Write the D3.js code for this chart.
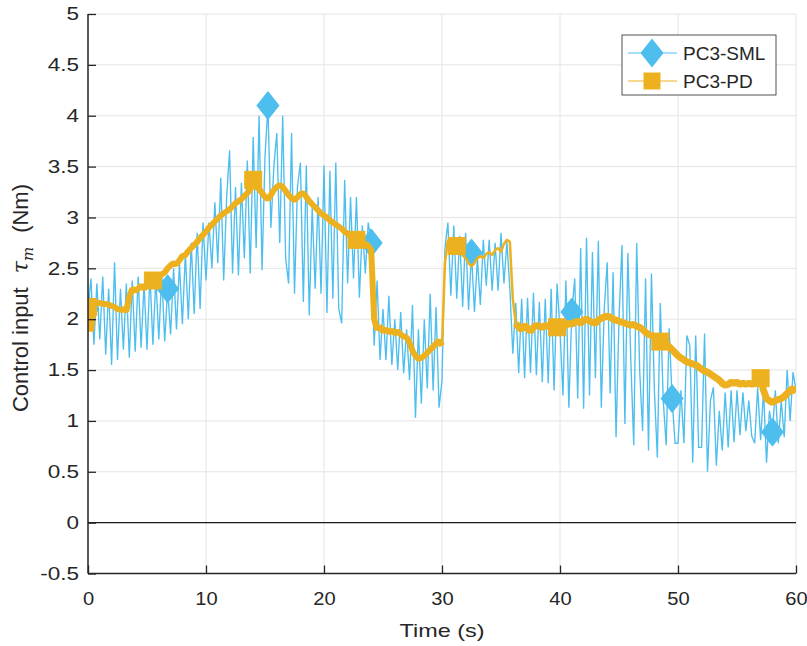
<!DOCTYPE html>
<html>
<head>
<meta charset="utf-8">
<script src="https://cdn.jsdelivr.net/npm/d3@7"></script>
<style>
  html, body { margin: 0; padding: 0; background: #ffffff; }
  svg { display: block; }
  text { font-family: "Liberation Sans", Arial, Helvetica, sans-serif; fill: #262626; }
</style>
</head>
<body>
<svg id="chart" width="807" height="646"></svg>
<script>
// ---------------- DATA ----------------
const sampleStep = 0.25;              // seconds between samples
const seriesNames = ["PC3-SML", "PC3-PD"];
const xTickValues = [0, 10, 20, 30, 40, 50, 60];
const yTickValues = [-0.5, 0, 0.5, 1, 1.5, 2, 2.5, 3, 3.5, 4, 4.5, 5];
const yTickLabels = ["-0.5", "0", "0.5", "1", "1.5", "2", "2.5", "3", "3.5", "4", "4.5", "5"];

// PC3-SML control input, one row per second (t, t+.25, t+.5, t+.75)
const smlValues = [
  2.10, 2.40, 1.75, 2.35,
  1.80, 2.42, 1.65, 2.30,
  1.55, 2.56, 1.60, 2.30,
  1.70, 2.35, 1.62, 2.38,
  1.68, 2.42, 1.72, 2.35,
  1.70, 2.45, 1.75, 2.40,
  1.80, 2.45, 1.78, 2.30,
  1.85, 2.50, 1.90, 2.55,
  1.95, 2.65, 2.00, 2.75,
  2.05, 2.85, 2.10, 2.95,
  2.38, 2.95, 2.50, 3.15,
  2.55, 3.39, 2.38, 3.20,
  3.66, 2.45, 3.30, 2.43,
  3.34, 2.60, 3.56, 2.45,
  3.79, 2.70, 4.00, 2.48,
  3.60, 4.10, 2.90, 3.50,
  3.83, 2.75, 4.00, 2.60,
  2.35, 3.83, 2.25, 3.30,
  3.54, 2.17, 3.51, 2.04,
  3.10, 2.30, 3.20, 2.25,
  3.51, 2.06, 3.46, 2.20,
  3.54, 2.10, 1.96, 3.37,
  2.35, 3.20, 2.40, 3.20,
  2.21, 2.92, 2.45, 2.95,
  2.75, 1.74, 2.38, 1.60,
  2.10, 1.60, 2.23, 1.55,
  2.00, 1.50, 2.07, 1.47,
  1.90, 1.40, 2.14, 1.03,
  1.90, 1.17, 2.00, 1.32,
  2.25, 1.30, 2.12, 1.13,
  1.40, 2.70, 2.95, 2.23,
  2.92, 2.20, 2.82, 2.12,
  2.85, 2.09, 2.65, 2.07,
  2.60, 2.14, 2.78, 2.33,
  2.78, 2.28, 2.75, 2.28,
  2.85, 2.35, 2.76, 2.30,
  1.66, 2.16, 1.47, 2.20,
  1.42, 2.21, 1.47, 2.26,
  1.45, 2.17, 1.38, 2.20,
  1.37, 2.30, 1.30, 2.35,
  1.90, 1.25, 2.38, 1.13,
  2.07, 2.40, 1.22, 2.70,
  1.12, 2.80, 1.25, 2.66,
  1.42, 2.77, 1.13, 2.10,
  2.56, 1.27, 2.46, 0.84,
  2.00, 2.73, 0.97, 2.65,
  1.60, 0.76, 2.75, 1.50,
  0.90, 2.40, 0.71, 2.45,
  1.30, 0.64, 2.16, 1.20,
  0.76, 1.91, 1.22, 0.78,
  0.78, 1.30, 0.78, 1.84,
  1.74, 0.59, 1.84, 0.74,
  0.74, 1.86, 0.50, 1.20,
  1.33, 0.56, 1.10, 0.71,
  1.28, 0.74, 1.30, 0.79,
  1.30, 0.86, 1.28, 0.90,
  1.20, 0.85, 0.78, 1.33,
  0.81, 1.30, 0.59, 1.10,
  0.89, 1.30, 0.78, 1.20,
  0.84, 1.50, 1.00, 1.48,
  1.30
];

// PC3-PD control input, one row per second (t, t+.25, t+.5, t+.75)
const pdValues = [
  2.12, 1.88, 2.15, 2.16,
  2.16, 2.15, 2.15, 2.14,
  2.13, 2.12, 2.10, 2.09,
  2.10, 2.08, 2.22, 2.30,
  2.28, 2.30, 2.33, 2.30,
  2.34, 2.36, 2.38, 2.40,
  2.42, 2.44, 2.46, 2.50,
  2.53, 2.55, 2.54, 2.58,
  2.62, 2.63, 2.67, 2.70,
  2.73, 2.76, 2.80, 2.83,
  2.86, 2.90, 2.93, 2.96,
  2.99, 3.02, 3.04, 3.06,
  3.08, 3.11, 3.14, 3.16,
  3.18, 3.21, 3.24, 3.27,
  3.37, 3.30, 3.28, 3.24,
  3.20, 3.18, 3.22, 3.27,
  3.30, 3.32, 3.30, 3.26,
  3.22, 3.19, 3.17, 3.20,
  3.23, 3.24, 3.20, 3.16,
  3.13, 3.10, 3.07, 3.04,
  3.02, 3.00, 2.97, 2.95,
  2.93, 2.91, 2.89, 2.86,
  2.84, 2.81, 2.79, 2.78,
  2.77, 2.76, 2.74, 2.72,
  2.68, 2.00, 1.90, 1.93,
  1.88, 1.90, 1.87, 1.89,
  1.86, 1.88, 1.85, 1.83,
  1.82, 1.77, 1.69, 1.64,
  1.61, 1.62, 1.64, 1.67,
  1.70, 1.73, 1.76, 1.79,
  1.74, 2.55, 2.78, 2.72,
  2.71, 2.72, 2.68, 2.63,
  2.60, 2.55, 2.52, 2.55,
  2.60, 2.62, 2.60, 2.64,
  2.66, 2.63, 2.68, 2.70,
  2.66, 2.74, 2.78, 2.76,
  2.20, 1.96, 1.92, 1.90,
  1.94, 1.91, 1.88, 1.92,
  1.94, 1.93, 1.92, 1.94,
  1.93, 1.92, 1.91, 1.92,
  1.91, 1.92, 1.94, 1.96,
  1.95, 1.97, 1.98, 1.96,
  1.99, 2.00, 1.98, 1.97,
  1.96, 1.99, 2.01, 2.02,
  2.03, 2.02, 2.00, 1.99,
  1.98, 1.97, 1.96, 1.95,
  1.94, 1.95, 1.93, 1.92,
  1.90, 1.87, 1.85, 1.84,
  1.83, 1.81, 1.78, 1.78,
  1.76, 1.73, 1.70, 1.67,
  1.64, 1.62, 1.60, 1.58,
  1.57, 1.56, 1.55, 1.53,
  1.51, 1.49, 1.48, 1.46,
  1.44, 1.42, 1.40, 1.37,
  1.35, 1.36, 1.38, 1.37,
  1.38, 1.36, 1.37, 1.36,
  1.37, 1.36, 1.38, 1.37,
  1.42, 1.30, 1.22, 1.20,
  1.18, 1.20, 1.21, 1.22,
  1.24, 1.27, 1.30, 1.32,
  1.28
];

// times (s) at which markers are drawn on each series
const smlMarkerTimes = [0, 6.75, 15.25, 24, 32.5, 41, 49.5, 58];
const pdMarkerTimes  = [0, 5.5, 14, 22.75, 31.25, 39.75, 48.5, 57];

// ---------------- DRAWING ----------------
(function draw() {
const colSML = "#4DBEEE";
const colPD  = "#EDB120";
const axisCol = "#262626";
const gridCol = "#e4e4e4";
const stretchY = 1.25;   // the reference's axis text is drawn wide
const stretchX = 1.12;

const svg = d3.select("#chart");
const pL = 88, pR = 796, pT = 14, pB = 573.5;

const x = d3.scaleLinear().domain([0, 60]).range([pL, pR]);
const y = d3.scaleLinear().domain([-0.5, 5]).range([pB, pT]);

const toPoints = vals => vals.map((v, i) => ({ t: i * sampleStep, v }));
const smlData = toPoints(smlValues);
const pdData  = toPoints(pdValues);
const at = (data, t) => data[Math.round(t / sampleStep)];

// grid
const grid = svg.append("g");
grid.selectAll("line.gx").data(xTickValues).join("line")
  .attr("x1", d => x(d)).attr("x2", d => x(d))
  .attr("y1", pT).attr("y2", pB)
  .attr("stroke", gridCol).attr("stroke-width", 1);
grid.selectAll("line.gy").data(yTickValues).join("line")
  .attr("x1", pL).attr("x2", pR)
  .attr("y1", d => y(d)).attr("y2", d => y(d))
  .attr("stroke", gridCol).attr("stroke-width", 1);

// clip
svg.append("clipPath").attr("id", "clip").append("rect")
  .attr("x", pL).attr("y", pT).attr("width", pR - pL).attr("height", pB - pT);

const plot = svg.append("g").attr("clip-path", "url(#clip)");

// zero reference line
plot.append("line")
  .attr("x1", x(0)).attr("x2", x(60)).attr("y1", y(0)).attr("y2", y(0))
  .attr("stroke", "#1a1a1a").attr("stroke-width", 1.4);

const line = d3.line().x(d => x(d.t)).y(d => y(d.v));

// SML line + diamonds
plot.append("path").datum(smlData)
  .attr("d", line).attr("fill", "none")
  .attr("stroke", colSML).attr("stroke-width", 1.35).attr("stroke-linejoin", "miter");

const diamond = (cx, cy, hw, hh) => `M${cx},${cy - hh}L${cx + hw},${cy}L${cx},${cy + hh}L${cx - hw},${cy}Z`;
plot.selectAll("path.dm").data(smlMarkerTimes.map(t => at(smlData, t))).join("path")
  .attr("d", d => diamond(x(d.t), y(d.v), 11, 14))
  .attr("fill", colSML).attr("stroke", colSML).attr("stroke-width", 1);

// PD line (band width varies with the jitter seen in the reference) + squares
const pdBands = [
  { from: 0, to: 30, w: 6 },
  { from: 30, to: 36.25, w: 2.5 },
  { from: 36.25, to: 60, w: 7 }
];
pdBands.forEach(b => {
  plot.append("path").datum(pdData.filter(d => d.t >= b.from && d.t <= b.to))
    .attr("d", line).attr("fill", "none")
    .attr("stroke", colPD).attr("stroke-width", b.w)
    .attr("stroke-linejoin", "bevel").attr("stroke-linecap", "butt");
});

plot.selectAll("rect.sq").data(pdMarkerTimes.map(t => at(pdData, t))).join("rect")
  .attr("x", d => x(d.t) - 8.5).attr("y", d => y(d.v) - 8.5)
  .attr("width", 17).attr("height", 17)
  .attr("fill", colPD).attr("stroke", colPD).attr("stroke-width", 1);

// axes
const fs = 18;
const yAxis = d3.axisLeft(y).tickValues(yTickValues)
  .tickFormat((d, i) => yTickLabels[i]).tickSize(-8).tickPadding(9 / stretchY);
const gy = svg.append("g").attr("transform", `translate(${pL},0)`).call(yAxis);
const xAxis = d3.axisBottom(x).tickValues(xTickValues)
  .tickFormat(d3.format("d")).tickSize(-8).tickPadding(23);
const gx = svg.append("g").attr("transform", `translate(0,${pB})`).call(xAxis);

[[gx, stretchX], [gy, stretchY]].forEach(([g, s]) => {
  g.select(".domain").remove();
  g.selectAll(".tick line").attr("stroke", axisCol).attr("stroke-width", 1.3);
  g.selectAll(".tick text").attr("font-size", fs).attr("fill", axisCol)
    .attr("transform", `scale(${s},1)`)
    .style("font-family", "'Liberation Sans', Arial, sans-serif");
});
gx.selectAll(".tick text").attr("dy", "0.5em");

svg.append("line").attr("x1", pL).attr("x2", pL).attr("y1", pT).attr("y2", pB)
  .attr("stroke", axisCol).attr("stroke-width", 1.5);
svg.append("line").attr("x1", pL).attr("x2", pR).attr("y1", pB).attr("y2", pB)
  .attr("stroke", axisCol).attr("stroke-width", 1.5);

// axis labels
svg.append("g").attr("transform", `translate(${(pL + pR) / 2},637) scale(1.3,1)`)
  .append("text").attr("text-anchor", "middle").attr("font-size", 18).text("Time (s)");

const yl = svg.append("text")
  .attr("transform", `translate(28,298) rotate(-90)`)
  .attr("text-anchor", "middle").attr("font-size", 22);
yl.append("tspan").text("Control input");
yl.append("tspan").attr("dx", 14).attr("font-style", "italic")
  .attr("font-family", "'DejaVu Serif', serif").text("τ");
yl.append("tspan").attr("font-style", "italic").attr("font-family", "'DejaVu Serif', serif")
  .attr("font-size", 15).attr("dy", 5).text("m");
yl.append("tspan").attr("dy", -5).attr("dx", 14).text("(Nm)");

// legend
const lg = svg.append("g");
lg.append("rect").attr("x", 622).attr("y", 35).attr("width", 154).attr("height", 60)
  .attr("fill", "#ffffff").attr("stroke", axisCol).attr("stroke-width", 0.8);
const legendRows = [
  { name: seriesNames[0], color: colSML, shape: "diamond", yy: 53 },
  { name: seriesNames[1], color: colPD, shape: "square", yy: 81 }
];
legendRows.forEach(r => {
  lg.append("line").attr("x1", 628).attr("x2", 677).attr("y1", r.yy).attr("y2", r.yy)
    .attr("stroke", r.color).attr("stroke-width", 1);
  if (r.shape === "diamond") {
    lg.append("path").attr("d", diamond(652, r.yy, 11.5, 14.5)).attr("fill", r.color);
  } else {
    lg.append("rect").attr("x", 652 - 8.5).attr("y", r.yy - 8.5).attr("width", 17).attr("height", 17)
      .attr("fill", r.color);
  }
  lg.append("text").attr("x", 683).attr("y", r.yy).attr("dy", "0.35em")
    .attr("font-size", 19).attr("fill", "#000").text(r.name);
});
})();
</script>
</body>
</html>
